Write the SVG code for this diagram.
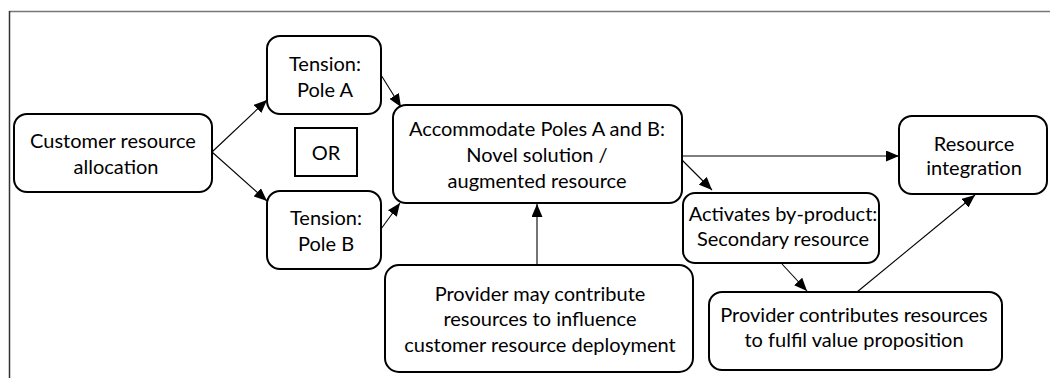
<svg xmlns="http://www.w3.org/2000/svg" width="1050" height="378" viewBox="0 0 1050 378">
<style>
  .box{fill:#fff;stroke:#000;stroke-width:2}
  .or{fill:#fff;stroke:#000;stroke-width:2}
  .t{font-family:Lato,"Liberation Sans",sans-serif;font-size:20px;fill:#000;text-anchor:middle}
  .c{fill:none;stroke:#000;stroke-width:1.1;marker-end:url(#ah)}
</style>
<defs>
  <marker id="ah" markerUnits="userSpaceOnUse" markerWidth="13" markerHeight="11" refX="13" refY="5.5" orient="auto">
    <path d="M0,0 L13,5.5 L0,11 z" fill="#000"/>
  </marker>
</defs>
<rect width="1050" height="378" fill="#fff"/>
<g id="frame">
  <line x1="9" y1="11.5" x2="1050" y2="11.5" stroke="#777" stroke-width="1.5"/>
  <line x1="9.5" y1="11" x2="9.5" y2="378" stroke="#333" stroke-width="1.5"/>
</g>
<g id="connectors">
  <line class="c" x1="212" y1="152" x2="267" y2="100"/>
  <line class="c" x1="212" y1="152" x2="267" y2="201"/>
  <line class="c" x1="381" y1="75" x2="401" y2="107"/>
  <line class="c" x1="381" y1="229" x2="400" y2="203"/>
  <line class="c" x1="682" y1="156" x2="899" y2="156"/>
  <line class="c" x1="682" y1="160" x2="712" y2="190"/>
  <line class="c" x1="782" y1="264" x2="807" y2="291"/>
  <line class="c" x1="857" y1="292" x2="975" y2="195"/>
  <line class="c" x1="537" y1="265" x2="537" y2="204"/>
</g>
<g id="customer">
  <rect class="box" x="14" y="114" width="198" height="78" rx="13"/>
  <text class="t" x="113" y="148">Customer resource</text>
  <text class="t" x="116" y="174">allocation</text>
</g>
<g id="poleA">
  <rect class="box" x="267" y="36" width="114" height="78" rx="13"/>
  <text class="t" x="325" y="71">Tension:</text>
  <text class="t" x="325" y="97">Pole A</text>
</g>
<g id="or">
  <rect class="or" x="295" y="128" width="62" height="48"/>
  <text class="t" x="326" y="160">OR</text>
</g>
<g id="poleB">
  <rect class="box" x="267" y="191" width="114" height="78" rx="13"/>
  <text class="t" x="326" y="225">Tension:</text>
  <text class="t" x="326" y="251">Pole B</text>
</g>
<g id="accommodate">
  <rect class="box" x="393" y="105" width="289" height="98" rx="13"/>
  <text class="t" x="537" y="136">Accommodate Poles A and B:</text>
  <text class="t" x="537" y="162">Novel solution /</text>
  <text class="t" x="537" y="188">augmented resource</text>
</g>
<g id="providerMay">
  <rect class="box" x="385" y="265" width="308" height="107" rx="14"/>
  <text class="t" x="540" y="301">Provider may contribute</text>
  <text class="t" x="540" y="326">resources to influence</text>
  <text class="t" x="540" y="352">customer resource deployment</text>
</g>
<g id="activates">
  <rect class="box" x="683" y="193" width="196" height="70" rx="12"/>
  <text class="t" x="783" y="221">Activates by-product:</text>
  <text class="t" x="783" y="246">Secondary resource</text>
</g>
<g id="integration">
  <rect class="box" x="899" y="116" width="148" height="78" rx="13"/>
  <text class="t" x="974" y="151">Resource</text>
  <text class="t" x="974" y="175">integration</text>
</g>
<g id="providerContributes">
  <rect class="box" x="709" y="292" width="293" height="78" rx="13"/>
  <text class="t" x="854" y="322">Provider contributes resources</text>
  <text class="t" x="854" y="347">to fulfil value proposition</text>
</g>
</svg>
